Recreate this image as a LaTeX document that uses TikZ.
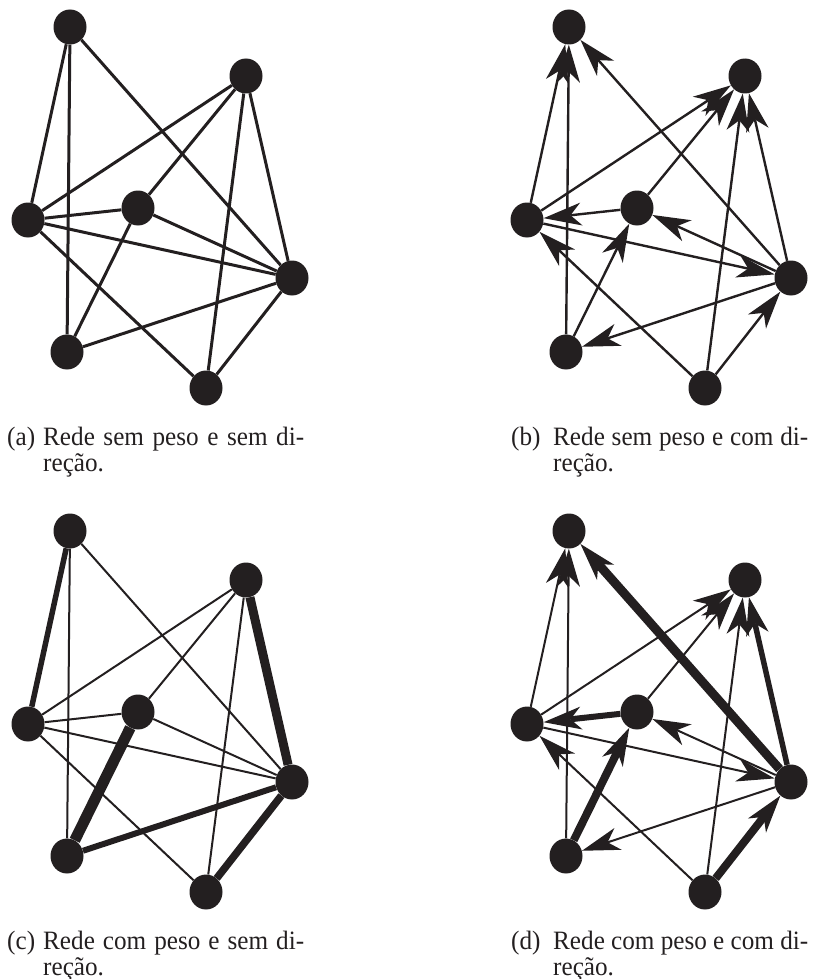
\documentclass[tikz,border=0pt]{standalone}
\usepackage{fontspec}
\setmainfont{Liberation Serif}[FakeStretch=0.95]
\usetikzlibrary{shapes.geometric,arrows.meta,backgrounds}

\definecolor{ink}{RGB}{35,31,32}

\tikzset{
  vtx/.style={ellipse, fill=ink, draw=none, inner sep=0pt,
              minimum width=33pt, minimum height=35pt},
  edgeA/.style={draw=ink, line width=3pt},
  edgeB/.style={draw=ink, line width=2.4pt},
  edgeW/.style={draw=ink, line width=2pt},
  arr/.style={-{Stealth[length=38pt,width=23pt,inset=11pt,line width=0pt]}},
  captext/.style={inner sep=0pt, text=ink, font=\fontsize{26.5}{30}\selectfont},
}

% a caption line set to a fixed width, spaces stretching or shrinking evenly
\newcommand\capline[2]{\hbox to #1{\spaceskip=0.25em plus 1fil minus 0.2em\relax #2}}

% seven vertices of one network, shifted by (#2,#3), names prefixed by #1
\newcommand\graphnodes[3]{%
  \node[vtx] (#1A) at (70+#2, 27+#3) {};
  \node[vtx] (#1B) at (246+#2, 76+#3) {};
  \node[vtx] (#1C) at (28+#2, 220+#3) {};
  \node[vtx] (#1D) at (138+#2, 208+#3) {};
  \node[vtx] (#1E) at (292+#2, 278+#3) {};
  \node[vtx] (#1F) at (67+#2, 352+#3) {};
  \node[vtx] (#1G) at (206+#2, 388+#3) {};
}

\begin{document}
\begin{tikzpicture}[x=1pt, y=-1pt]
\useasboundingbox (0,0) rectangle (816,979);

\graphnodes{a}{0}{0}
\graphnodes{b}{499}{0}
\graphnodes{c}{0}{504}
\graphnodes{d}{499}{504}

\begin{scope}[on background layer]
  % (a) unweighted, undirected
  \foreach \u/\v in {A/C, A/F, A/E, B/C, B/D, B/G, B/E, C/D, C/E, C/G, D/E, D/F, F/E, G/E}
    \draw[edgeA] (a\u) -- (a\v);

  % (b) unweighted, directed
  \foreach \u/\v in {C/A, F/A, E/A, C/B, D/B, G/B, E/B, D/C, C/E, G/C, E/D, F/D, E/F, G/E}
    \draw[edgeB, arr] (b\u) -- (b\v);

  % (c) weighted, undirected
  \foreach \u/\v/\w in {A/C/5.5, B/E/9, D/F/11, F/E/6, G/E/7.5,
                        A/F/2, A/E/2, B/C/2, B/D/2, B/G/2, C/D/2, C/E/2, C/G/2, D/E/2}
    \draw[edgeW, line width=\w pt] (c\u) -- (c\v);

  % (d) weighted, directed
  \foreach \u/\v/\w in {E/A/9, D/C/6, F/D/8, G/E/8, E/B/5.5,
                        C/A/2, F/A/2, C/B/2, D/B/2, G/B/2, C/E/2, G/C/2, E/D/2, E/F/2}
    \draw[edgeW, arr, line width=\w pt] (d\u) -- (d\v);
\end{scope}

% captions
\node[captext, anchor=base west] (la) at (7,445) {(a)};
\node[captext, anchor=base west] (ta1) at (43,445) {\capline{261pt}{Rede sem peso e sem di-}};
\node[captext, anchor=base west] (ta2) at (43,471) {reção.};

\node[captext, anchor=base west] (lb) at (511,445) {(b)};
\node[captext, anchor=base west] (tb1) at (553,445) {\capline{255pt}{Rede sem peso e com di-}};
\node[captext, anchor=base west] (tb2) at (553,471) {reção.};

\node[captext, anchor=base west] (lc) at (7,949) {(c)};
\node[captext, anchor=base west] (tc1) at (43,949) {\capline{261pt}{Rede com peso e sem di-}};
\node[captext, anchor=base west] (tc2) at (43,975) {reção.};

\node[captext, anchor=base west] (ld) at (511,949) {(d)};
\node[captext, anchor=base west] (td1) at (553,949) {\capline{255pt}{Rede com peso e com di-}};
\node[captext, anchor=base west] (td2) at (553,975) {reção.};
\end{tikzpicture}
\end{document}
